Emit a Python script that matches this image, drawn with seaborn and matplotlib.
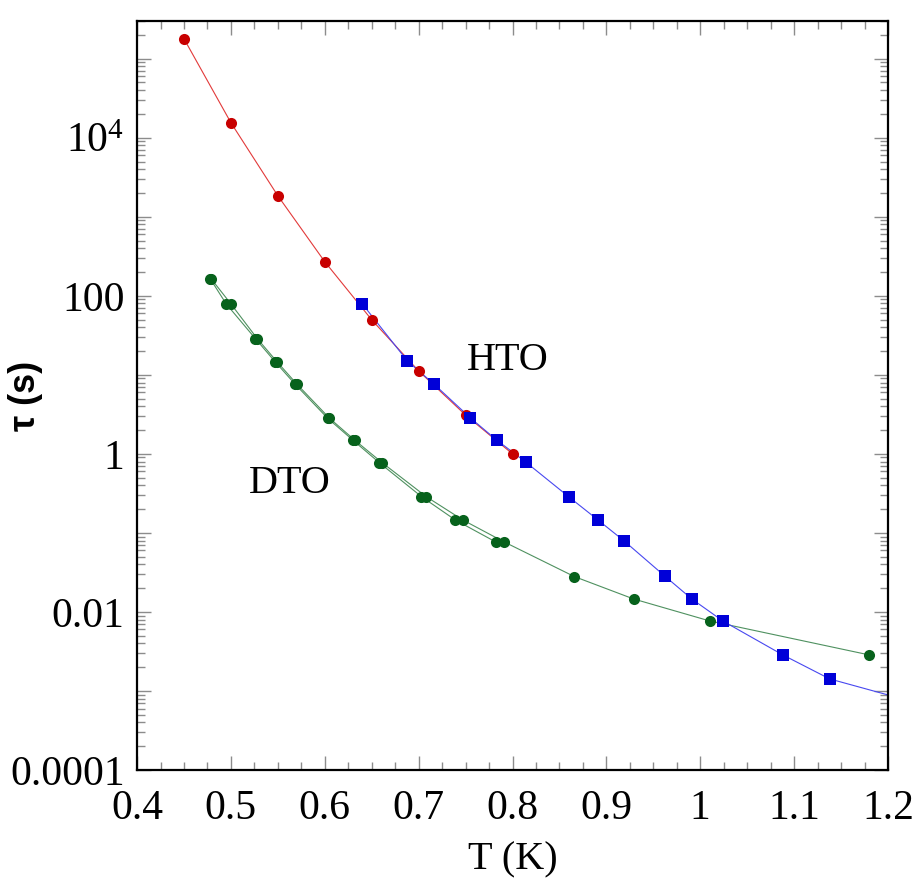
#!/usr/bin/env python3
# plot relaxation time vs temperature for HTO / DTO

import matplotlib
matplotlib.use('Agg')
import matplotlib.pyplot as plt
import matplotlib.ticker as mticker
import pandas as pd
import seaborn as sns

# Data =========================================================================

hto_red_T = [0.45, 0.50, 0.55, 0.60, 0.65, 0.70, 0.75, 0.80]
hto_red_tau = [1.79e5, 1.55e4, 1845, 270, 49.7, 11.2, 3.1, 1.0]

hto_blue_T = [0.640, 0.688, 0.716, 0.755, 0.783, 0.814, 0.860, 0.891,
              0.919, 0.962, 0.991, 1.024, 1.088, 1.138, 1.240]
hto_blue_tau = [79, 15.0, 7.7, 2.86, 1.5, 0.79, 0.286, 0.146,
                0.079, 0.0286, 0.0146, 0.0077, 0.00286, 0.00142, 0.00066]

dto_a_T = [0.478, 0.495, 0.526, 0.547, 0.568, 0.603, 0.630, 0.658,
           0.703, 0.739, 0.782]
dto_a_tau = [164, 79, 28.8, 14.7, 7.7, 2.83, 1.49, 0.776,
             0.288, 0.146, 0.077]

dto_b_T = [0.479, 0.500, 0.528, 0.549, 0.570, 0.605, 0.632, 0.661,
           0.708, 0.747, 0.791, 0.866, 0.929, 1.010, 1.180]
dto_b_tau = [164, 79, 28.8, 14.7, 7.7, 2.83, 1.49, 0.776,
             0.288, 0.146, 0.077, 0.028, 0.0146, 0.0077, 0.00286]


# Functions ====================================================================

def draw_series(ax, T, tau, line_color, marker_color, marker, size):
    df = pd.DataFrame({'T': T, 'tau': tau})
    sns.lineplot(data=df, x='T', y='tau', ax=ax, sort=False, estimator=None,
                 color=line_color, linewidth=0.8, zorder=2)
    sns.scatterplot(data=df, x='T', y='tau', ax=ax, color=marker_color,
                    marker=marker, s=size, linewidth=0, zorder=3)


def decade_label(val, pos):
    labels = {1e-4: '0.0001', 1e-2: '0.01', 1: '1', 1e2: '100',
              1e4: '$10^4$'}
    for k, v in labels.items():
        if abs(val - k) / k < 1e-6:
            return v
    return ''


def main():
    sns.set_theme(style='ticks')
    plt.rcParams['font.family'] = ['Liberation Serif', 'DejaVu Serif']
    plt.rcParams['mathtext.fontset'] = 'custom'
    plt.rcParams['mathtext.rm'] = 'Liberation Serif'
    plt.rcParams['mathtext.it'] = 'Liberation Serif:italic'
    plt.rcParams['text.color'] = 'black'
    plt.rcParams['axes.labelcolor'] = 'black'
    plt.rcParams['xtick.labelcolor'] = 'black'
    plt.rcParams['ytick.labelcolor'] = 'black'

    fig = plt.figure(figsize=(9.16, 8.86), dpi=100)
    ax = fig.add_axes([0.1496, 0.1309, 0.8198, 0.8454])

    draw_series(ax, dto_a_T, dto_a_tau, '#4f9160', '#07621c', 'o', 64)
    draw_series(ax, dto_b_T, dto_b_tau, '#4f9160', '#07621c', 'o', 64)
    draw_series(ax, hto_red_T, hto_red_tau, '#e23a3a', '#c80000', 'o', 64)
    draw_series(ax, hto_blue_T, hto_blue_tau, '#4848f0', '#0000d8', 's', 70)

    ax.set_yscale('log')
    ax.set_xlim(0.4, 1.2)
    ax.set_ylim(1e-4, 3.0e5)

    ax.xaxis.set_major_locator(mticker.MultipleLocator(0.1))
    ax.xaxis.set_minor_locator(mticker.MultipleLocator(0.025))
    ax.xaxis.set_major_formatter(
        mticker.FuncFormatter(lambda v, p: f'{v:g}'))
    ax.yaxis.set_major_locator(mticker.LogLocator(base=10, numticks=20))
    ax.yaxis.set_minor_locator(
        mticker.LogLocator(base=10, subs=range(2, 10), numticks=20))
    ax.yaxis.set_major_formatter(mticker.FuncFormatter(decade_label))
    ax.yaxis.set_minor_formatter(mticker.NullFormatter())

    ax.tick_params(which='both', direction='in', top=True, right=True,
                   color='#8c8c8c', width=1.0, labelcolor='black')
    ax.tick_params(which='major', length=10, labelsize=30, pad=9)
    ax.tick_params(which='minor', length=6)
    ax.tick_params(axis='x', which='major', pad=14)

    for side in ax.spines.values():
        side.set_color('black')
        side.set_linewidth(1.6)

    ax.set_xlabel('T (K)', fontsize=29, labelpad=10, color='black')
    ax.set_ylabel('τ (s)', fontsize=26, fontweight='bold', color='black',
                  family=['Liberation Sans', 'DejaVu Sans'])
    ax.yaxis.set_label_coords(-0.125, 0.5)

    ax.text(0.795, 15.0, 'HTO', fontsize=29, ha='center', va='center',
            color='black')
    ax.text(0.563, 0.417, 'DTO', fontsize=29, ha='center', va='center',
            color='black')

    fig.savefig('out.png', dpi=100)


# Execute ======================================================================

if __name__ == '__main__':
    main()
